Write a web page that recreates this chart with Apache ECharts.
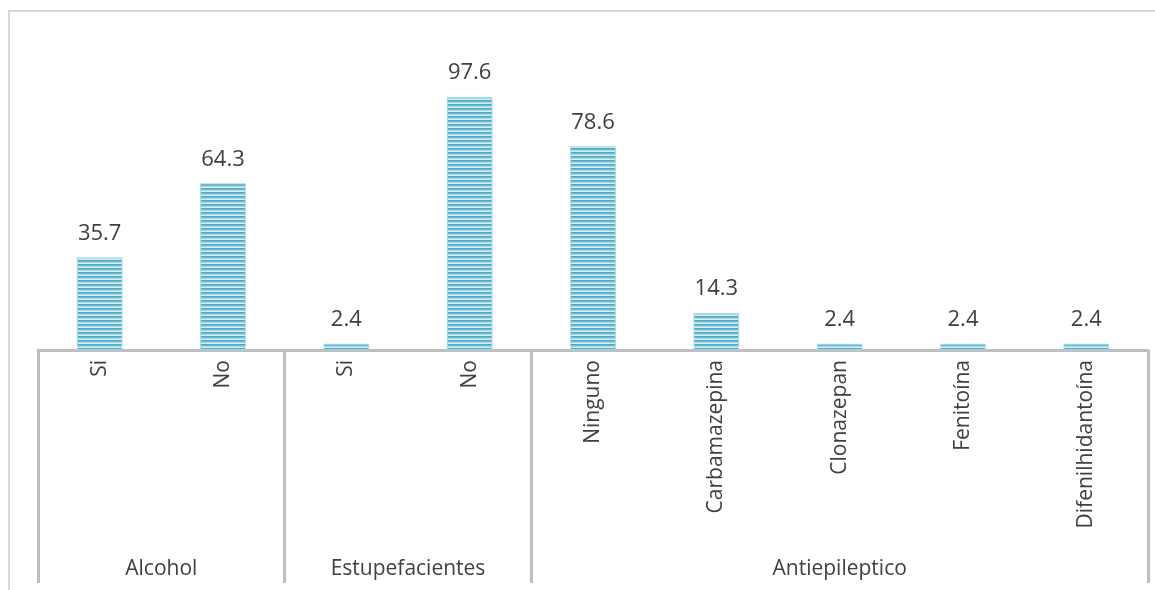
<!DOCTYPE html>
<html>
<head>
<meta charset="utf-8">
<script src="https://cdn.jsdelivr.net/npm/echarts@6/dist/echarts.min.js"></script>
<style>
  html, body { margin: 0; padding: 0; background: #fff; }
  #chart { width: 1155px; height: 590px; }
</style>
</head>
<body>
<div id="chart"></div>
<script>
// Items and percentages, grouped by substance type
const categories = ['Si', 'No', 'Si', 'No', 'Ninguno', 'Carbamazepina', 'Clonazepan', 'Fenitoína', 'Difenilhidantoína'];
const values = [35.7, 64.3, 2.4, 97.6, 78.6, 14.3, 2.4, 2.4, 2.4];
const groupNames = ['Alcohol', 'Estupefacientes', 'Antiepileptico'];
const groupSizes = [2, 2, 5];

// Index of the first category of each group (used for the separator ticks)
const groupStarts = [];
let acc = 0;
groupSizes.forEach(s => { groupStarts.push(acc); acc += s; });

// Group label axis works on half-band steps so each name lands on its group's centre
const groupAxisData = new Array(categories.length * 2 + 1).fill('');
groupNames.forEach((name, i) => { groupAxisData[groupStarts[i] * 2 + groupSizes[i]] = name; });

// Horizontal striped fill for the bars
const stripe = document.createElement('canvas');
stripe.width = 4; stripe.height = 4;
const sctx = stripe.getContext('2d');
const stripeRows = ['#4eaac5', '#68bad1', '#a9d9e7', '#d6eef5'];
stripeRows.forEach((c, i) => { sctx.fillStyle = c; sctx.fillRect(0, i, 4, 1); });

const chart = echarts.init(document.getElementById('chart'));
const font = '"Open Sans", "DejaVu Sans", sans-serif';

chart.setOption({
  animation: false,
  backgroundColor: '#ffffff',
  grid: { left: 38, right: 7, top: 39, bottom: 240, containLabel: false },
  graphic: [{
    type: 'rect',
    shape: { x: 9, y: 11, width: 1200, height: 700 },
    style: { fill: 'none', stroke: '#d9d9d9', lineWidth: 2 },
    silent: true
  }],
  xAxis: [{
    type: 'category',
    data: categories,
    boundaryGap: true,
    axisLine: { show: true, lineStyle: { color: '#bfbfbf', width: 3 } },
    axisTick: {
      show: true,
      alignWithLabel: false,
      interval: (index) => groupStarts.includes(index),
      length: 233,
      lineStyle: { color: '#bfbfbf', width: 3 }
    },
    axisLabel: {
      interval: 0,
      rotate: 90,
      margin: 10,
      color: '#404040',
      fontSize: 21,
      fontFamily: font
    },
    splitLine: { show: false }
  }, {
    type: 'category',
    data: groupAxisData,
    boundaryGap: false,
    position: 'bottom',
    offset: 200,
    axisLine: { show: false },
    axisTick: { show: false },
    axisLabel: {
      interval: 0,
      margin: 9,
      color: '#404040',
      fontSize: 21,
      fontFamily: font
    },
    splitLine: { show: false }
  }],
  yAxis: {
    type: 'value',
    min: 0,
    max: 120,
    show: false,
    splitLine: { show: false }
  },
  series: [{
    type: 'bar',
    xAxisIndex: 0,
    data: values,
    barWidth: '37%',
    itemStyle: {
      color: { image: stripe, repeat: 'repeat' },
      borderColor: '#a6d7e5',
      borderWidth: 1
    },
    label: {
      show: true,
      position: 'top',
      distance: 13,
      color: '#404040',
      fontSize: 22,
      fontFamily: font,
      formatter: p => p.value.toFixed(1)
    }
  }]
});
</script>
</body>
</html>
